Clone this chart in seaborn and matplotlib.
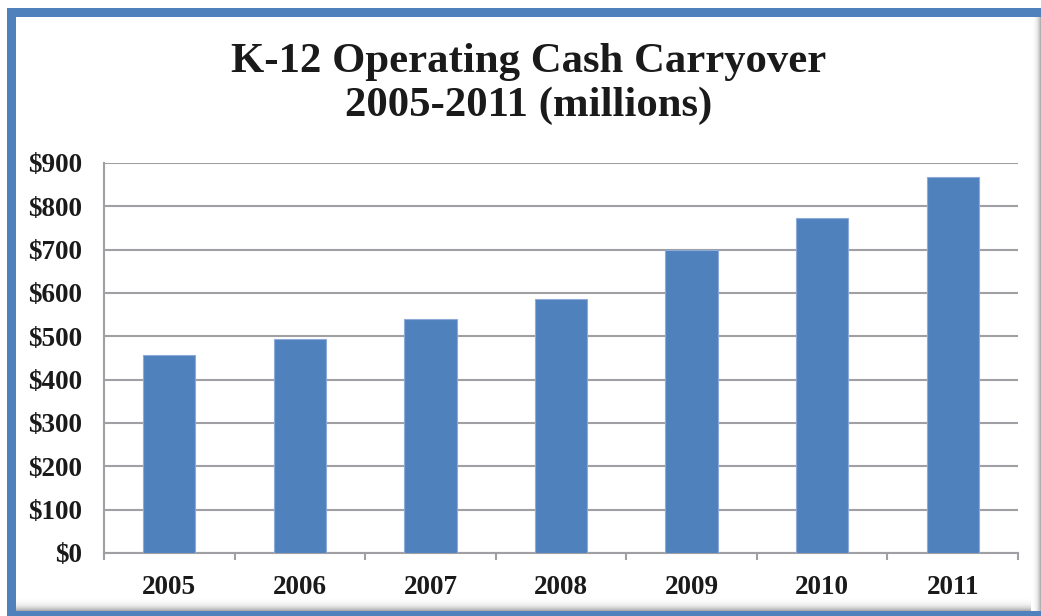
import numpy as np
import pandas as pd
import matplotlib
matplotlib.use("Agg")
import matplotlib.pyplot as plt
from matplotlib.patches import Rectangle
from matplotlib.ticker import FixedLocator
import seaborn as sns

years = ["2005", "2006", "2007", "2008", "2009", "2010", "2011"]
carryover = [457, 494, 541, 586, 699, 773, 867]
y_ticks = [0, 100, 200, 300, 400, 500, 600, 700, 800, 900]
y_labels = ["$0", "$100", "$200", "$300", "$400", "$500", "$600", "$700", "$800", "$900"]
title = "K-12 Operating Cash Carryover\n2005-2011 (millions)"

BLUE = "#4F81BD"
GRID = "#A0A0A4"

sns.set_style("white")
plt.rcParams["font.family"] = ["Liberation Serif", "DejaVu Serif"]

W, H = 1041, 616
PT = 72 / 100  # points per pixel at dpi 100
fig = plt.figure(figsize=(W / 100, H / 100), dpi=100)
fig.patch.set_facecolor("white")

def px(x0, y0, x1, y1):
    return (x0 / W, 1 - y1 / H, (x1 - x0) / W, (y1 - y0) / H)

# outer frame
bx, by, bw, bh = px(7, 8, 1060, 640)
fig.patches.append(Rectangle((bx, by), bw, bh, transform=fig.transFigure,
                             facecolor=BLUE, edgecolor="none", zorder=0))
ix, iy, iw, ih = px(16, 17, 1041, 611)
fig.patches.append(Rectangle((ix, iy), iw, ih, transform=fig.transFigure,
                             facecolor="white", edgecolor="none", zorder=0.5))

# bottom shadow gradient
sax = fig.add_axes(px(16, 597, 1041, 611), zorder=0.6)
grad = np.linspace(0, 1, 64).reshape(-1, 1) ** 2
sax.imshow(grad, aspect="auto", cmap="Greys", vmin=0, vmax=2.2,
           extent=[0, 1, 1, 0])
sax.axis("off")
# right shadow gradient
rax = fig.add_axes(px(1031, 17, 1041, 611), zorder=0.6)
gradr = np.linspace(0, 1, 64).reshape(1, -1) ** 2
rax.imshow(gradr, aspect="auto", cmap="Greys", vmin=0, vmax=2.2,
           extent=[0, 1, 0, 1])
rax.axis("off")

ax = fig.add_axes(px(104, 163, 1018, 553), zorder=1)
ax.patch.set_alpha(0)
df = pd.DataFrame({"year": years, "value": carryover})
sns.barplot(data=df, x="year", y="value", color=BLUE, width=0.4,
            saturation=1, edgecolor="#8EAADB", linewidth=0.8, ax=ax, zorder=3)

ax.set_xlim(-0.5, len(years) - 0.5)
ax.set_ylim(0, 900)
ax.set_yticks(y_ticks)
ax.set_yticklabels(y_labels)
ax.set_xlabel("")
ax.set_ylabel("")
ax.yaxis.grid(True, color=GRID, linewidth=1.5, zorder=0)
ax.set_axisbelow(True)

for s in ["top", "right"]:
    ax.spines[s].set_visible(False)
for s in ["left", "bottom"]:
    ax.spines[s].set_visible(True)
    ax.spines[s].set_color(GRID)
    ax.spines[s].set_linewidth(1.5)

ax.xaxis.set_minor_locator(FixedLocator(np.arange(-0.5, len(years), 1.0)))
ax.tick_params(axis="x", which="major", length=0, pad=22 * PT)
ax.tick_params(axis="x", which="minor", length=7 * PT, width=1.5, color=GRID,
               direction="out", bottom=True)
ax.tick_params(axis="y", which="major", length=7 * PT, width=1.5, color=GRID,
               direction="out", pad=15 * PT)
for lab in ax.get_xticklabels() + ax.get_yticklabels():
    lab.set_fontsize(19.5)
    lab.set_fontweight("bold")
    lab.set_color("#1a1a1a")

fig.text(529 / W, 1 - 84 / H, title, ha="center", va="center",
         fontsize=30.8, fontweight="bold", color="#1a1a1a", linespacing=1.22,
         zorder=2)

fig.savefig("out.png", dpi=100)
